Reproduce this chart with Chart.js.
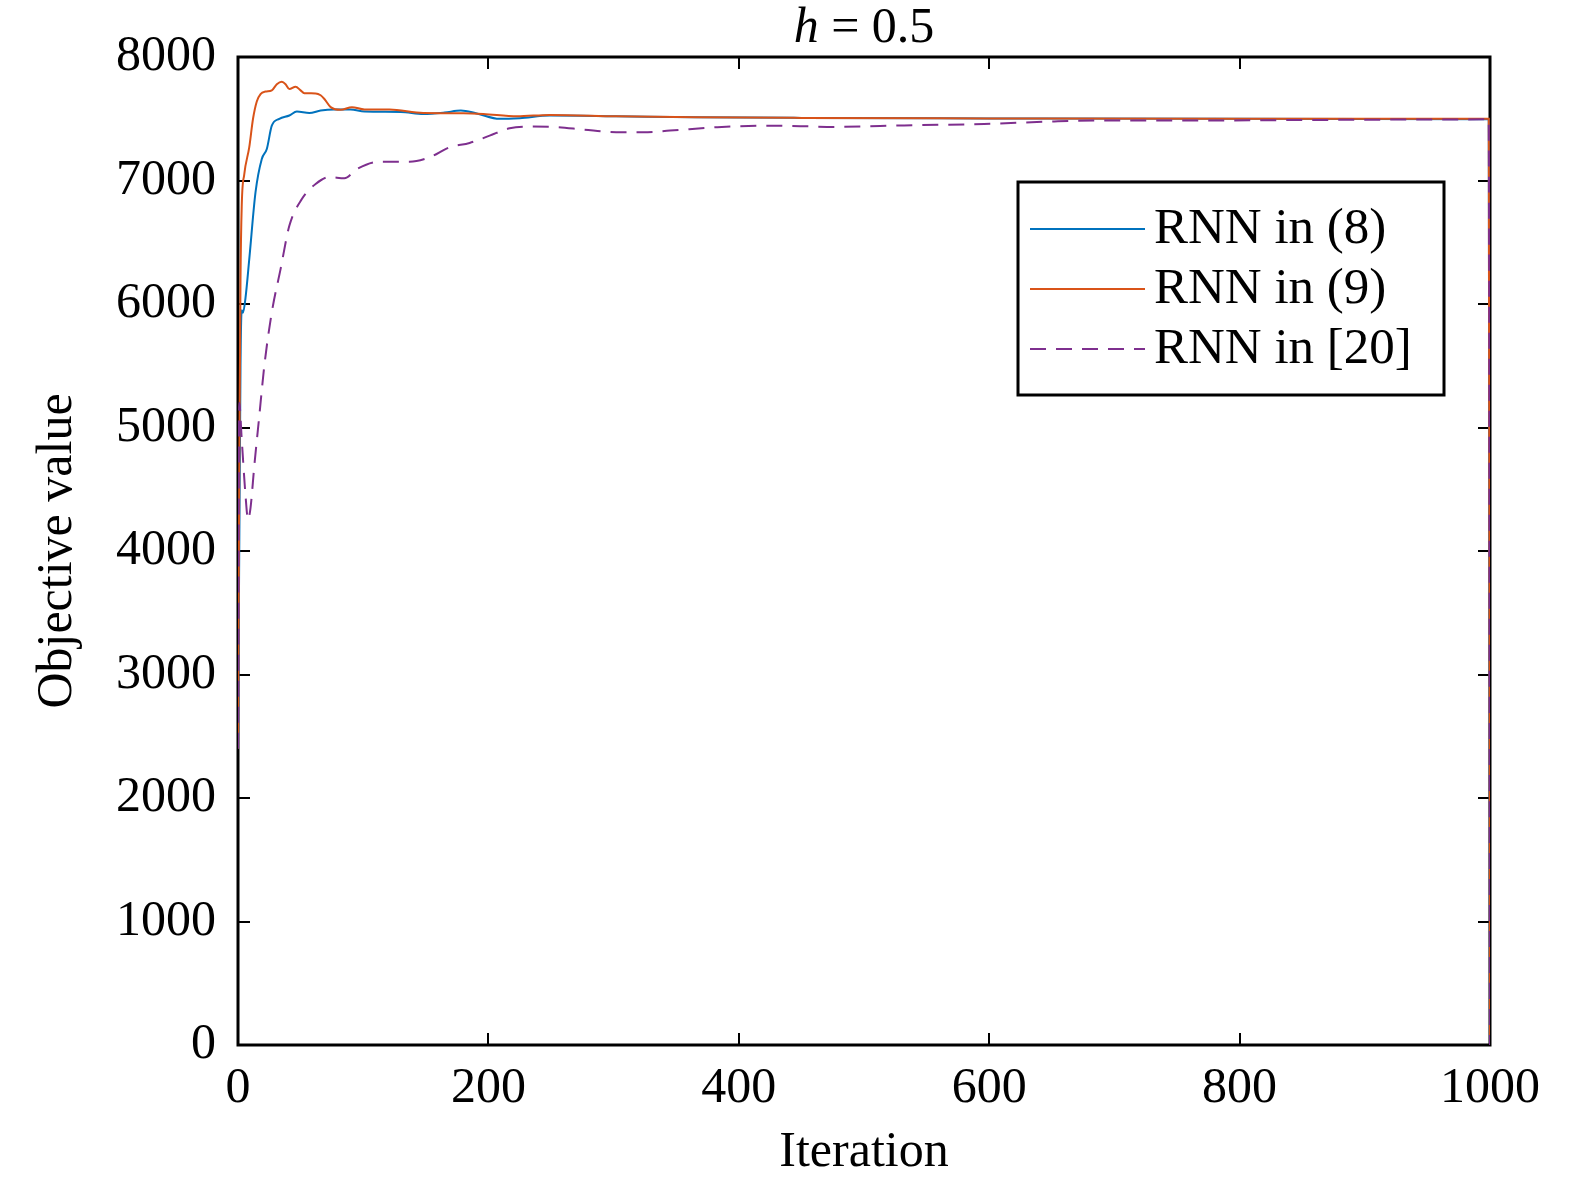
<!DOCTYPE html>
<html>
<head>
<meta charset="utf-8">
<title>h = 0.5</title>
<script src="https://cdn.jsdelivr.net/npm/chart.js@4.4.1/dist/chart.umd.min.js"></script>
<style>
  html, body { margin: 0; padding: 0; background: #fff; }
  canvas { display: block; }
</style>
</head>
<body>
<canvas id="chart" width="1575" height="1183"></canvas>
<script>
// === DATA ===
const xTicks = [0, 200, 400, 600, 800, 1000];
const yTicks = [0, 1000, 2000, 3000, 4000, 5000, 6000, 7000, 8000];

const iterRnn8 = [0, 2, 3, 4, 6, 9, 14, 19, 23, 27, 33, 41, 47, 57, 66, 77, 90, 101, 130, 148, 165, 178, 190, 209, 225, 249, 302, 366, 450, 600, 800, 999, 1000];
const valRnn8  = [2400, 5500, 5950, 5930, 6050, 6363, 6905, 7174, 7255, 7444, 7499, 7526, 7558, 7547, 7566, 7574, 7574, 7558, 7555, 7539, 7550, 7566, 7545, 7499, 7505, 7526, 7520, 7512, 7507, 7503, 7500, 7495, 0];

const iterRnn9 = [0, 1, 2, 3, 5, 9, 12, 15, 18, 22, 27, 31, 35, 38, 41, 46, 50, 53, 62, 66, 69, 74, 82, 91, 101, 121, 148, 180, 196, 223, 249, 302, 366, 450, 600, 800, 999, 1000];
const valRnn9  = [2400, 4600, 6200, 6800, 7050, 7270, 7500, 7640, 7700, 7720, 7730, 7780, 7800, 7780, 7740, 7760, 7730, 7707, 7705, 7690, 7660, 7594, 7572, 7594, 7575, 7574, 7547, 7545, 7539, 7520, 7531, 7520, 7512, 7507, 7503, 7500, 7500, 0];

const iterRnn20 = [0, 1, 3, 6, 8, 10, 13, 17, 21, 27, 34, 41, 51, 62, 73, 85, 95, 113, 137, 153, 169, 185, 201, 217, 233, 255, 276, 302, 324, 345, 383, 422, 449, 476, 532, 596, 652, 693, 773, 853, 999, 1000];
const valRnn20  = [2400, 5200, 4900, 4450, 4255, 4350, 4687, 5093, 5498, 5933, 6282, 6633, 6850, 6972, 7028, 7018, 7093, 7152, 7152, 7188, 7269, 7304, 7363, 7423, 7437, 7432, 7412, 7391, 7391, 7404, 7432, 7444, 7440, 7434, 7446, 7458, 7478, 7486, 7486, 7490, 7495, 0];

const seriesLabels = ['RNN in (8)', 'RNN in (9)', 'RNN in [20]'];

// === HELPERS ===
const FONT = '"Liberation Serif", "Times New Roman", serif';
const toPoints = (xs, ys) => xs.map((x, i) => ({ x, y: ys[i] }));

// box + inward ticks on all four sides (MATLAB style)
const boxPlugin = {
  id: 'box',
  beforeDatasetsDraw(chart) {
    const { ctx, chartArea: a, scales: { x, y } } = chart;
    const len = 12;
    ctx.save();
    ctx.strokeStyle = '#000';
    ctx.lineWidth = 2;
    ctx.beginPath();
    xTicks.forEach(v => {
      const px = Math.round(x.getPixelForValue(v));
      ctx.moveTo(px, a.bottom); ctx.lineTo(px, a.bottom - len);
      ctx.moveTo(px, a.top); ctx.lineTo(px, a.top + len);
    });
    yTicks.forEach(v => {
      const py = Math.round(y.getPixelForValue(v));
      ctx.moveTo(a.left, py); ctx.lineTo(a.left + len, py);
      ctx.moveTo(a.right, py); ctx.lineTo(a.right - len, py);
    });
    ctx.stroke();
    ctx.lineWidth = 3;
    ctx.strokeRect(a.left, a.top, a.right - a.left, a.bottom - a.top);
    ctx.restore();
  }
};

// title with italic h
const titlePlugin = {
  id: 'mathTitle',
  afterDraw(chart) {
    const { ctx, chartArea: a } = chart;
    ctx.save();
    ctx.fillStyle = '#000';
    ctx.textBaseline = 'middle';
    const it = 'italic 50px ' + FONT, rm = '50px ' + FONT;
    ctx.font = it; const w1 = ctx.measureText('h').width;
    ctx.font = rm; const w2 = ctx.measureText(' = 0.5').width;
    let x0 = (a.left + a.right) / 2 - (w1 + w2) / 2;
    ctx.font = it; ctx.fillText('h', x0, 29);
    ctx.font = rm; ctx.fillText(' = 0.5', x0 + w1, 29);
    ctx.restore();
  }
};

// legend box in the upper right
const legendPlugin = {
  id: 'boxLegend',
  afterDraw(chart) {
    const { ctx } = chart;
    const bx = 1018, by = 182, bw = 426, bh = 213;
    ctx.save();
    ctx.fillStyle = '#fff';
    ctx.fillRect(bx, by, bw, bh);
    ctx.strokeStyle = '#000';
    ctx.lineWidth = 3;
    ctx.strokeRect(bx, by, bw, bh);
    ctx.font = '51px ' + FONT;
    ctx.textBaseline = 'middle';
    chart.data.datasets.forEach((ds, i) => {
      const yy = 229 + i * 60;
      ctx.strokeStyle = ds.borderColor;
      ctx.lineWidth = 2;
      ctx.setLineDash(ds.borderDash || []);
      ctx.beginPath(); ctx.moveTo(1030, yy); ctx.lineTo(1145, yy); ctx.stroke();
      ctx.setLineDash([]);
      ctx.fillStyle = '#000';
      ctx.fillText(ds.label, 1154, yy + 1);
    });
    ctx.restore();
  }
};

new Chart(document.getElementById('chart'), {
  type: 'line',
  data: {
    datasets: [
      { label: seriesLabels[0], data: toPoints(iterRnn8, valRnn8), borderColor: '#0072BD', order: 3 },
      { label: seriesLabels[1], data: toPoints(iterRnn9, valRnn9), borderColor: '#D95319', order: 2 },
      { label: seriesLabels[2], data: toPoints(iterRnn20, valRnn20), borderColor: '#7E2F8E', borderDash: [16, 10], order: 1 }
    ].map(d => Object.assign({ borderWidth: 2, pointRadius: 0, fill: false, cubicInterpolationMode: 'monotone' }, d))
  },
  options: {
    responsive: false,
    animation: false,
    layout: { padding: { top: 57, right: 85, left: 0, bottom: 0 } },
    plugins: { legend: { display: false }, title: { display: false }, tooltip: { enabled: false } },
    scales: {
      x: {
        type: 'linear', min: 0, max: 1000,
        afterBuildTicks: s => { s.ticks = xTicks.map(v => ({ value: v })); },
        afterFit: s => { s.height = 138; },
        grid: { display: false, drawTicks: false },
        border: { display: false },
        ticks: { color: '#000', padding: 14, maxRotation: 0, callback: v => String(v), font: { family: FONT, size: 50 } },
        title: { display: true, text: 'Iteration', color: '#000', padding: { top: 0, bottom: 0 }, font: { family: FONT, size: 50 } }
      },
      y: {
        type: 'linear', min: 0, max: 8000,
        afterBuildTicks: s => { s.ticks = yTicks.map(v => ({ value: v })); },
        afterFit: s => { s.width = 238; },
        grid: { display: false, drawTicks: false },
        border: { display: false },
        ticks: { color: '#000', padding: 22, callback: v => String(v), font: { family: FONT, size: 50 } },
        title: { display: true, text: 'Objective value', color: '#000', padding: { top: 28, bottom: 0 }, font: { family: FONT, size: 50 } }
      }
    }
  },
  plugins: [boxPlugin, titlePlugin, legendPlugin]
});
</script>
</body>
</html>
